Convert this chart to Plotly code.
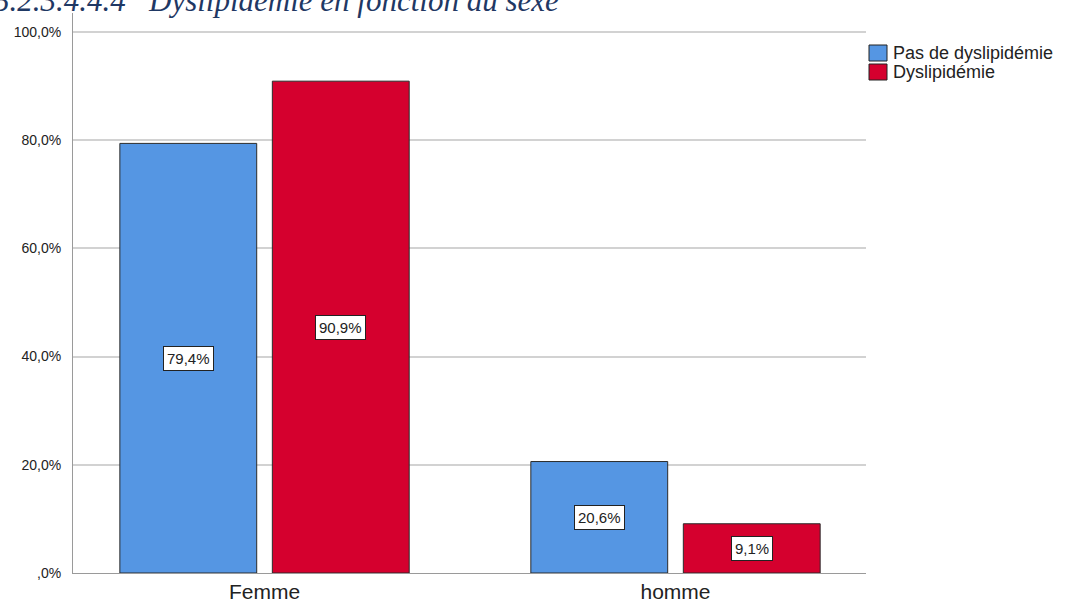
import plotly.graph_objects as go

categories = ["Femme", "homme"]
series_names = ["Pas de dyslipidémie", "Dyslipidémie"]
pas_dyslip = [79.4, 20.6]
dyslip = [90.9, 9.1]
y_ticks = [0, 20, 40, 60, 80, 100]
y_tick_labels = [",0%", "20,0%", "40,0%", "60,0%", "80,0%", "100,0%"]

colors = ["#5596E3", "#D5002E"]
bar_w = 0.333
offsets = [-0.352, 0.019]

W, H = 1065, 603
M_L, M_R, M_T, M_B = 73, 199, 13, 30
PW, PH = W - M_L - M_R, H - M_T - M_B


def px_x(p):
    return (p - M_L) / PW


def px_y(p):
    return (H - M_B - p) / PH


fig = go.Figure()
for name, vals, col, off in zip(series_names, [pas_dyslip, dyslip], colors, offsets):
    fig.add_trace(go.Bar(
        x=categories, y=vals, name=name,
        width=bar_w, offset=off, showlegend=False,
        marker=dict(color=col, line=dict(color="#2b2b2b", width=1)),
    ))
    # value boxes at mid-height of each bar
    for i, v in enumerate(vals):
        fig.add_annotation(
            x=i + off + bar_w / 2, y=v / 2, xref="x", yref="y",
            text=f"{v:.1f}%".replace(".", ","), showarrow=False,
            font=dict(family="Liberation Sans, Arial", size=15, color="#222"),
            bgcolor="white", bordercolor="#222", borderwidth=1, borderpad=3,
        )

# legend: coloured squares with labels to the right of the plot
for k, (name, col) in enumerate(zip(series_names, colors)):
    top = 45 + k * 19
    fig.add_shape(
        type="rect", xref="paper", yref="paper",
        x0=px_x(869), x1=px_x(887), y0=px_y(top + 16), y1=px_y(top),
        fillcolor=col, line=dict(color="#222", width=1),
    )
    fig.add_annotation(
        x=px_x(891), y=px_y(top + 8), xref="paper", yref="paper",
        xanchor="left", yanchor="middle", text=name, showarrow=False,
        font=dict(family="Liberation Sans, Arial", size=18, color="#222"),
    )

fig.add_annotation(
    x=px_x(-8), y=px_y(12), xref="paper", yref="paper",
    xanchor="left", yanchor="bottom", yshift=-8,
    text="5.2.3.4.4.4   Dyslipidémie en fonction du sexe", showarrow=False,
    font=dict(family="Liberation Serif, serif", size=31, color="#1F3864", style="italic"),
)

fig.update_layout(
    width=W, height=H,
    margin=dict(l=M_L, r=M_R, t=M_T, b=M_B, autoexpand=False),
    plot_bgcolor="white", paper_bgcolor="white",
    barmode="overlay",
    showlegend=False,
    xaxis=dict(
        type="category", range=[-0.466, 1.4635], automargin=False,
        showline=True, linecolor="#9a9a9a", linewidth=1,
        ticks="", showgrid=False, ticklabelstandoff=0,
        tickfont=dict(family="Liberation Sans, Arial", size=21, color="#222"),
    ),
    yaxis=dict(
        range=[0, 103.5], tickvals=y_ticks, ticktext=y_tick_labels,
        automargin=False,
        showline=True, linecolor="#9a9a9a", linewidth=1,
        showgrid=True, gridcolor="#d2d2d2", gridwidth=1.5,
        zeroline=False, ticks="", ticklabelstandoff=8,
        tickfont=dict(family="Liberation Sans, Arial", size=14, color="#222"),
    ),
)

fig.write_html("out.html")
